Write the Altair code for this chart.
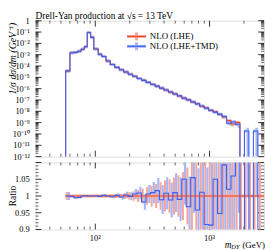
import altair as alt
import numpy as np
import pandas as pd

# ---------------- data ----------------
edges = [55, 60, 65, 70, 75, 80, 85, 91, 97, 106, 114, 124, 135, 148, 162, 177,
         194, 212, 232, 254, 278, 304, 333, 364, 398, 436, 477, 522, 571, 625,
         684, 749, 819, 897, 981, 1074, 1175, 1286, 1408, 1541, 1686, 1845,
         2020, 2210, 2419, 2648, 3000]

tmd_vals = [3.7e-5, 1.5e-3, 1.6e-3, 2.0e-3, 3.0e-3, 5.0e-3, 9.1e-2, 3.4e-2,
            3.2e-3, 1.07e-3, 6.9e-4, 2.8e-4, 1.38e-4, 7.6e-5, 4.7e-5, 2.95e-5,
            1.9e-5, 1.23e-5, 7.9e-6, 5.4e-6, 3.6e-6, 2.45e-6, 1.66e-6, 1.12e-6,
            7.6e-7, 5.0e-7, 3.4e-7, 2.3e-7, 1.51e-7, 1.02e-7, 6.8e-8, 4.5e-8,
            2.9e-8, 1.9e-8, 1.26e-8, 8.5e-9, 5.6e-9, 3.5e-9, 8.9e-10, 1.12e-9,
            7.1e-10, 0, 1.8e-10, 0, 1.8e-10, 0]

lhe_vals = [3.7e-5, 1.5e-3, 1.6e-3, 2.0e-3, 3.0e-3, 5.0e-3, 9.1e-2, 3.4e-2,
            3.2e-3, 1.07e-3, 6.9e-4, 2.8e-4, 1.38e-4, 7.6e-5, 4.7e-5, 2.95e-5,
            1.9e-5, 1.22e-5, 7.8e-6, 5.5e-6, 3.6e-6, 2.4e-6, 1.65e-6, 1.10e-6,
            7.7e-7, 4.95e-7, 3.45e-7, 2.28e-7, 1.45e-7, 1.06e-7, 6.6e-8, 4.7e-8,
            2.8e-8, 2.05e-8, 1.2e-8, 8.9e-9, 5.3e-9, 3.2e-9, 1.5e-9, 7.5e-10,
            1.0e-9, 0, 0, 0, 0, 0]

# relative statistical errors (used in the upper panel)
err_lhe = [0.012, 0.003, 0.003, 0.003, 0.003, 0.002, 0.001, 0.001, 0.0015,
           0.002, 0.003, 0.004, 0.005, 0.006, 0.007, 0.009, 0.011, 0.014,
           0.018, 0.022, 0.026, 0.031, 0.036, 0.041, 0.046, 0.050, 0.055,
           0.062, 0.072, 0.085, 0.100, 0.120, 0.140, 0.160, 0.190, 0.220,
           0.260, 0.300, 0.350, 0.400, 0.500, 0.500, 0.500, 0.500, 0.500, 0.500]

err_tmd = [0.012, 0.003, 0.003, 0.003, 0.003, 0.002, 0.001, 0.001, 0.0015,
           0.002, 0.003, 0.004, 0.005, 0.006, 0.008, 0.010, 0.012, 0.015,
           0.019, 0.023, 0.027, 0.032, 0.038, 0.043, 0.048, 0.052, 0.058,
           0.065, 0.075, 0.090, 0.105, 0.125, 0.145, 0.170, 0.200, 0.230,
           0.270, 0.310, 0.360, 0.420, 0.500, 0, 1.000, 0, 1.000, 0]

# ratio panel: NLO(LHE+TMD) / NLO(LHE) and its error
ratio_tmd = [1.000, 0.999, 0.995, 0.996, 1.000, 1.001, 1.000, 1.000, 1.001,
             0.999, 1.002, 1.000, 0.998, 1.002, 0.997, 1.003, 0.999, 1.006,
             1.009, 0.982, 1.006, 1.010, 1.016, 0.989, 1.008, 0.988, 1.010,
             0.990, 1.050, 0.968, 1.055, 0.958, 1.011, 0.915, 0.913, 1.050,
             0.948, 1.093, 1.020, 1.060, 1.200, 0, 1.300, 0, 1.300, 0]

ratio_err_tmd = [0.012, 0.003, 0.003, 0.003, 0.003, 0.002, 0.001, 0.001, 0.0015,
                 0.002, 0.003, 0.004, 0.005, 0.006, 0.008, 0.010, 0.012, 0.015,
                 0.019, 0.023, 0.027, 0.032, 0.038, 0.043, 0.048, 0.052, 0.058,
                 0.065, 0.075, 0.090, 0.105, 0.125, 0.145, 0.170, 0.200, 0.230,
                 0.270, 0.310, 0.360, 0.420, 0.250, 0, 0.300, 0, 0.300, 0]

y_major = [1, 1e-1, 1e-2, 1e-3, 1e-4, 1e-5, 1e-6, 1e-7, 1e-8, 1e-9, 1e-10, 1e-11, 1e-12]
y_labels = ["1", "10⁻¹", "10⁻²", "10⁻³", "10⁻⁴", "10⁻⁵", "10⁻⁶", "10⁻⁷",
            "10⁻⁸", "10⁻⁹", "10⁻¹⁰", "10⁻¹¹", "10⁻¹²"]
y_minor = [m * d for d in y_major[1:] for m in range(2, 10)]
x_major = [100, 1000]
x_labels = ["10²", "10³"]
x_minor = [40, 50, 60, 70, 80, 90, 200, 300, 400, 500, 600, 700, 800, 900, 2000]
r_major = [0.9, 0.95, 1.0, 1.05, 1.1]
r_labels = ["0.9", "0.95", "1", "1.05"]
r_minor = [0.91, 0.92, 0.93, 0.94, 0.96, 0.97, 0.98, 0.99, 1.01, 1.02, 1.03,
           1.04, 1.06, 1.07, 1.08, 1.09]

title_text = "Drell-Yan production at √s = 13 TeV"
legend_names = ["NLO (LHE)", "NLO (LHE+TMD)"]

# ---------------- styles ----------------
W, H1, H2 = 232, 138, 68
FLOOR = 1e-13
RED, LRED = "#ee4a2c", "#f7a596"
BLUE, LBLUE = "#3f5fef", "#a6b6f6"
FONT = "Liberation Serif"
NUDGE = 1.022   # small horizontal separation of the two series' error bars

xs = alt.Scale(type="log", domain=[30, 3000], nice=False)
ys = alt.Scale(type="log", domain=[1e-12, 1], nice=False)
rs = alt.Scale(domain=[0.9, 1.1], nice=False, zero=False)

bins = pd.DataFrame(dict(lo=edges[:-1], hi=edges[1:], lhe=lhe_vals, tmd=tmd_vals,
                         r=ratio_tmd, el=err_lhe, et=err_tmd, ret=ratio_err_tmd))
bins["mid"] = np.sqrt(bins.lo * bins.hi)


def step_path(vals, floor, drop_ends):
    rows = []
    if drop_ends:
        rows.append((edges[0], floor))
    for lo, hi, v in zip(edges[:-1], edges[1:], vals):
        vv = v if v > 0 else floor
        rows.append((lo, vv))
        rows.append((hi, vv))
    if drop_ends:
        rows.append((edges[-1], floor))
    return pd.DataFrame({"x": [r[0] for r in rows], "y": [r[1] for r in rows],
                         "o": list(range(len(rows)))})


def err_table(val_col, err_col, lowclip, shift):
    d = bins[bins[val_col] > 0].copy()
    d["v"] = d[val_col]
    d["xm"] = d["mid"] * shift
    d["y1"] = np.maximum(d[val_col] * (1 - d[err_col]), lowclip)
    d["y2"] = d[val_col] * (1 + d[err_col])
    return d


def hbars(d, ycol, yscale, color, w):
    return alt.Chart(d).mark_rule(color=color, strokeWidth=w, clip=True).encode(
        x=alt.X("lo:Q", scale=xs, axis=None), x2="hi:Q",
        y=alt.Y(f"{ycol}:Q", scale=yscale, axis=None))


def vbars(d, yscale, color, w):
    return alt.Chart(d).mark_rule(color=color, strokeWidth=w, clip=True).encode(
        x=alt.X("xm:Q", scale=xs, axis=None),
        y=alt.Y("y1:Q", scale=yscale, axis=None), y2="y2:Q")


def line(d, yscale, color, w):
    return alt.Chart(d).mark_line(color=color, strokeWidth=w, clip=True,
                                  interpolate="linear").encode(
        x=alt.X("x:Q", scale=xs, axis=None),
        y=alt.Y("y:Q", scale=yscale, axis=None), order="o:Q")


def yticks(vals, yscale, length, width):
    d = pd.DataFrame({"v": vals})
    left = alt.Chart(d).mark_rule(color="black", strokeWidth=width).encode(
        y=alt.Y("v:Q", scale=yscale, axis=None), x=alt.value(0), x2=alt.value(length))
    right = alt.Chart(d).mark_rule(color="black", strokeWidth=width).encode(
        y=alt.Y("v:Q", scale=yscale, axis=None), x=alt.value(W), x2=alt.value(W - length))
    return [left, right]


def xticks(vals, height, length, width):
    d = pd.DataFrame({"v": vals})
    top = alt.Chart(d).mark_rule(color="black", strokeWidth=width).encode(
        x=alt.X("v:Q", scale=xs, axis=None), y=alt.value(0), y2=alt.value(length))
    bot = alt.Chart(d).mark_rule(color="black", strokeWidth=width).encode(
        x=alt.X("v:Q", scale=xs, axis=None), y=alt.value(height), y2=alt.value(height - length))
    return [top, bot]


def ylabels(vals, labels, yscale):
    d = pd.DataFrame({"v": vals, "t": labels})
    return alt.Chart(d).mark_text(font=FONT, fontSize=8.5, align="right",
                                  baseline="middle", color="black").encode(
        y=alt.Y("v:Q", scale=yscale, axis=None), x=alt.value(-6), text="t:N")


def xlabels(vals, labels, y):
    d = pd.DataFrame({"v": vals, "t": labels})
    return alt.Chart(d).mark_text(font=FONT, fontSize=8.5, align="center",
                                  baseline="middle", color="black").encode(
        x=alt.X("v:Q", scale=xs, axis=None), y=alt.value(y), text="t:N")


one = pd.DataFrame({"k": [0]})


def txt(text, x, y, size=9, align="left", angle=0, style="normal", baseline="alphabetic"):
    return alt.Chart(one).mark_text(text=text, font=FONT, fontSize=size, align=align,
                                    angle=angle, fontStyle=style, baseline=baseline,
                                    color="black").encode(x=alt.value(x), y=alt.value(y))


def seg(x1, x2, y1, y2, color, w):
    return alt.Chart(one).mark_rule(color=color, strokeWidth=w).encode(
        x=alt.value(x1), x2=alt.value(x2), y=alt.value(y1), y2=alt.value(y2))


# ---------------- top panel ----------------
lhe_err = err_table("lhe", "el", FLOOR, 1 / NUDGE)
tmd_err = err_table("tmd", "et", FLOOR, NUDGE)

legend_x0, legend_x1, legend_xc = 93, 112, 102.5
leg = []
for i, (c, lc, name) in enumerate([(RED, LRED, legend_names[0]), (BLUE, LBLUE, legend_names[1])]):
    yy = 16 + 10 * i
    leg += [seg(legend_x0, legend_x1, yy, yy, lc, 3),
            seg(legend_xc, legend_xc, yy - 4, yy + 4, lc, 3),
            seg(legend_x0, legend_x1, yy, yy, c, 1.2),
            txt(name, 116, yy + 3, size=9)]

top_layers = (
    yticks(y_major, ys, 6, 0.8) + yticks(y_minor, ys, 3, 0.6)
    + xticks(x_major, H1, 6, 0.8) + xticks(x_minor, H1, 3, 0.6)
    + [ylabels(y_major, y_labels, ys)]
    + [hbars(lhe_err, "v", ys, LRED, 3), vbars(lhe_err, ys, LRED, 2.5),
       hbars(tmd_err, "v", ys, LBLUE, 3), vbars(tmd_err, ys, LBLUE, 2.5),
       line(step_path(lhe_vals, FLOOR, True), ys, RED, 1.1),
       line(step_path(tmd_vals, FLOOR, True), ys, BLUE, 1.1)]
    + leg
    + [txt(title_text, 0, -2, size=9.5),
       txt("1/σ dσ/dm (GeV⁻¹)", -22.5, 2, size=10, align="right", angle=270,
           style="italic", baseline="middle")]
)
top = alt.layer(*top_layers).properties(width=W, height=H1)

# ---------------- ratio panel ----------------
r_lhe = bins.copy()
r_lhe["v"] = 1.0
r_lhe["xm"] = r_lhe["mid"] / NUDGE
r_lhe["y1"] = 1 - r_lhe["el"]
r_lhe["y2"] = 1 + r_lhe["el"]
r_tmd = bins[bins["ret"] > 0].copy()
r_tmd["v"] = r_tmd["r"]
r_tmd["xm"] = r_tmd["mid"] * NUDGE
r_tmd["y1"] = r_tmd["r"] - r_tmd["ret"]
r_tmd["y2"] = r_tmd["r"] + r_tmd["ret"]

ratio_layers = (
    yticks(r_major, rs, 6, 0.8) + yticks(r_minor, rs, 3, 0.6)
    + xticks(x_major, H2, 6, 0.8) + xticks(x_minor, H2, 3, 0.6)
    + [ylabels(r_major[:-1], r_labels, rs), xlabels(x_major, x_labels, H2 + 8.5)]
    + [vbars(r_lhe, rs, LRED, 2.0), vbars(r_tmd, rs, LBLUE, 2.2),
       hbars(r_tmd, "v", rs, LBLUE, 1.6), hbars(r_lhe, "v", rs, LRED, 3),
       line(step_path([1.0] * len(lhe_vals), 0.5, False), rs, RED, 1.2),
       line(step_path(ratio_tmd, 0.5, False), rs, BLUE, 1.1),
       txt("Ratio", -22.5, H2 / 2, size=9.5, align="center", angle=270, baseline="middle"),
       txt("(GeV)", W + 1, H2 + 19, size=9, align="right"),
       txt("DY", W - 25, H2 + 20.3, size=6.5, align="right", style="italic"),
       txt("m", W - 33, H2 + 19, size=9.5, align="right", style="italic")]
)
ratio = alt.layer(*ratio_layers).properties(width=W, height=H2)

chart = alt.vconcat(top, ratio, spacing=0).properties(
    padding={"left": 0, "top": 0, "right": 2, "bottom": 1}
).configure_view(stroke="black", strokeWidth=1).configure(background="white")

chart.save("out.html", embed_options={"renderer": "svg", "actions": False})
